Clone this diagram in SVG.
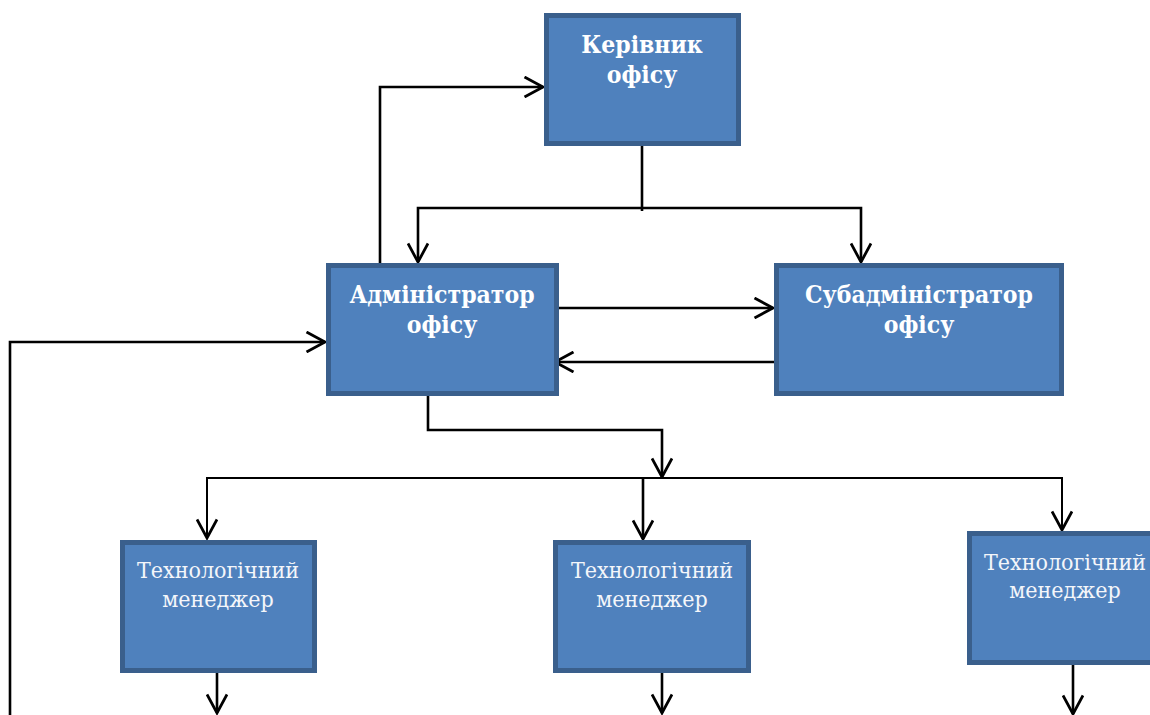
<svg xmlns="http://www.w3.org/2000/svg" width="1150" height="715" viewBox="0 0 1150 715">
<style>
.box{fill:#4F81BD;stroke:#3A5F8C;stroke-width:5}
.tb{font-family:"DejaVu Serif","Liberation Serif",serif;font-stretch:condensed;font-weight:bold;font-size:24.5px;fill:#FFFFFF;text-anchor:middle}
.tr{font-family:"DejaVu Serif","Liberation Serif",serif;font-stretch:condensed;font-size:23px;fill:#F4F6FA;text-anchor:middle}
.c{fill:none;stroke:#000;stroke-width:2.6}
.thin{fill:none;stroke:#000;stroke-width:2}
</style>
<defs>
<marker id="ah" viewBox="0 0 22 22" refX="20" refY="11" markerWidth="22" markerHeight="22" markerUnits="userSpaceOnUse" orient="auto-start-reverse">
<path d="M1.5,1 L20,11 L1.5,21" fill="none" stroke="#000" stroke-width="2.8"/>
</marker>
</defs>
<rect width="1150" height="715" fill="#FFFFFF"/>
<g id="connectors">
<path class="c" d="M642,143 V211"/>
<path class="c" d="M418,262 V208 H861 V262" marker-start="url(#ah)" marker-end="url(#ah)"/>
<path class="c" d="M380,268 V87 H543" marker-end="url(#ah)"/>
<path class="c" d="M556,308 H773" marker-end="url(#ah)"/>
<path class="c" d="M777,362 H555" marker-end="url(#ah)"/>
<path class="c" d="M428,390 V430 H662 V477" marker-end="url(#ah)"/>
<path class="thin" d="M207,538 V478 H1062 V530" marker-start="url(#ah)" marker-end="url(#ah)"/>
<path class="c" d="M643,478 V539" marker-end="url(#ah)"/>
<path class="c" d="M10,715 V342 H325" marker-end="url(#ah)"/>
<path class="c" d="M217,671 V713" marker-end="url(#ah)"/>
<path class="c" d="M662,671 V713" marker-end="url(#ah)"/>
<path class="c" d="M1073,663 V714" marker-end="url(#ah)"/>
</g>
<g id="kerivnyk">
<rect class="box" x="546.5" y="15.5" width="192" height="128"/>
<text class="tb" x="642" y="53">Керівник</text>
<text class="tb" x="642" y="83">офісу</text>
</g>
<g id="administrator">
<rect class="box" x="328.5" y="265.5" width="228" height="128"/>
<text class="tb" x="442" y="303">Адміністратор</text>
<text class="tb" x="442" y="333">офісу</text>
</g>
<g id="subadministrator">
<rect class="box" x="776.5" y="265.5" width="285" height="128"/>
<text class="tb" x="919" y="303">Субадміністратор</text>
<text class="tb" x="919" y="333">офісу</text>
</g>
<g id="manager1">
<rect class="box" x="122.5" y="542.5" width="192" height="128"/>
<text class="tr" x="218" y="578">Технологічний</text>
<text class="tr" x="218" y="607">менеджер</text>
</g>
<g id="manager2">
<rect class="box" x="555.5" y="542.5" width="193" height="128"/>
<text class="tr" x="652" y="578">Технологічний</text>
<text class="tr" x="652" y="607">менеджер</text>
</g>
<g id="manager3">
<rect class="box" x="969.5" y="533.5" width="192" height="129"/>
<text class="tr" x="1065" y="570">Технологічний</text>
<text class="tr" x="1065" y="598">менеджер</text>
</g>
</svg>
